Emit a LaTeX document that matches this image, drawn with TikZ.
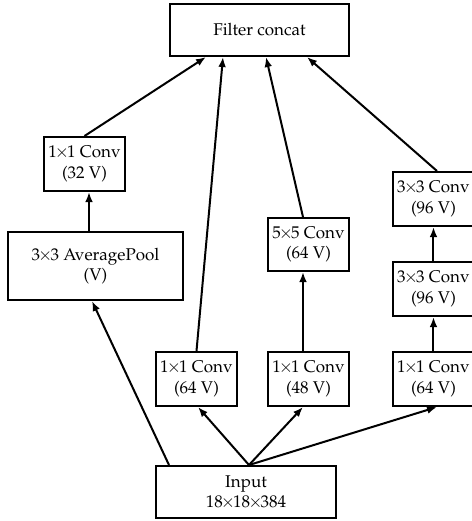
\documentclass[tikz,border=0pt]{standalone}
\usepackage[T1]{fontenc}
\usepackage{mathpazo}
\usetikzlibrary{arrows.meta,calc}
\newcommand{\by}{\ensuremath{\mkern-2mu\times\mkern-2mu}}
\begin{document}
\begin{tikzpicture}[x=0.6pt,y=-0.6pt,
  box/.style={draw,line width=1.2pt,inner sep=0pt,align=center,
    font=\fontsize{10.2}{12.2}\selectfont,minimum width=#1*0.6pt},
  box/.default=81,
  arr/.style={line width=1.2pt,-{Latex[length=6pt,width=4.6pt]}}]
\clip (0,0) rectangle (472,521);
\useasboundingbox (0,0) rectangle (472,521);
% top merge
\node[box=179,minimum height=31.2pt] (fc) at (259.5,30) {Filter concat};
% pooling branch
\node[box=81,minimum height=32.4pt] (c32) at (84.5,164) {1\by1 Conv\\(32 V)};
\node[box=175,minimum height=40.8pt] (avg) at (95.5,266) {3\by3 AveragePool\\(V)};
% 5x5 branch
\node[box=81,minimum height=31.8pt] (c5) at (308.5,244.5) {5\by5 Conv\\(64 V)};
% double 3x3 branch
\node[box=81,minimum height=32.4pt] (r3a) at (433.5,199) {3\by3 Conv\\(96 V)};
\node[box=81,minimum height=32.4pt] (r3b) at (433.5,289) {3\by3 Conv\\(96 V)};
% 1x1 row
\node[box=81,minimum height=32.4pt] (c64) at (196.5,379) {1\by1 Conv\\(64 V)};
\node[box=81,minimum height=32.4pt] (c48) at (308.5,379) {1\by1 Conv\\(48 V)};
\node[box=81,minimum height=32.4pt] (r1) at (433.5,379) {1\by1 Conv\\(64 V)};
% input
\node[box=180,minimum height=31.2pt] (in) at (246,492) {Input\\18\by18\by384};

% into filter concat
\draw[arr] (c32.north) -- ($(fc.south)+(-53.5,0)$);
\draw[arr] (c64.north) -- ($(fc.south)+(-36.5,0)$);
\draw[arr] ($(c5.north)+(-5.5,0)$) -- ($(fc.south)+(6.5,0)$);
\draw[arr] ($(r3a.north)+(3.5,0)$) -- ($(fc.south)+(47.5,0)$);
% inside branches
\draw[arr] ($(avg.north)+(-6.5,0)$) -- ($(c32.south)+(4.5,0)$);
\draw[arr] ($(c48.north)+(-5.5,0)$) -- ($(c5.south)+(-5.5,0)$);
\draw[arr] (r1.north) -- (r3b.south);
\draw[arr] (r3b.north) -- (r3a.south);
% from input
\draw[arr] ($(in.north)+(-77,0)$) -- ($(avg.south)+(-3.5,0)$);
\draw[arr] ($(in.north)+(3,0)$) -- ($(c64.south)+(1.5,0)$);
\draw[arr] ($(in.north)+(3,0)$) -- ($(c48.south)+(-5.5,0)$);
\draw[arr] ($(in.north)+(3,0)$) -- ($(r1.south)+(3.5,0)$);
\end{tikzpicture}
\end{document}
